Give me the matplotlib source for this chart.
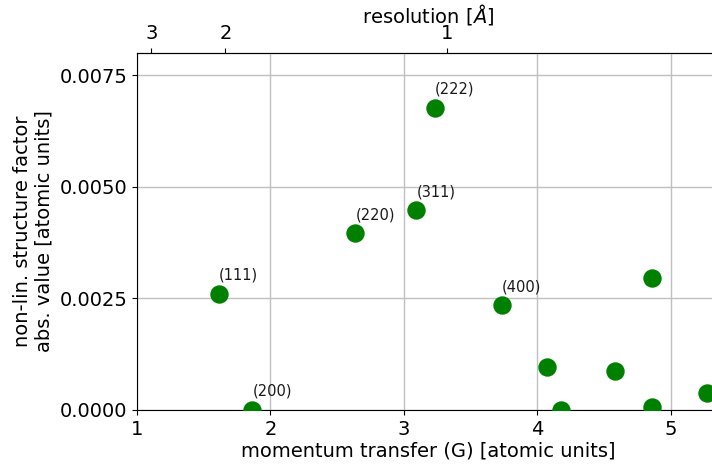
import numpy as np
import matplotlib
matplotlib.use('Agg')
import matplotlib.pyplot as plt

# reflections of the diamond lattice, |G| in 1/bohr and |F_nl| in atomic units
G = [1.614, 1.864, 2.636, 3.094, 3.235, 3.735, 4.072, 4.180, 4.580, 4.857, 4.857, 5.275]
F = [0.00260, 0.0, 0.00396, 0.00448, 0.00677, 0.00235, 0.00096, 0.0, 0.00087, 0.00295, 0.00006, 0.00038]
hkl = ['(111)', '(200)', '(220)', '(311)', '(222)', '(400)']

bohr = 0.529177   # bohr -> angstrom

def g2res(g):
    g = np.asarray(g, dtype=float)
    with np.errstate(divide='ignore'):
        return 2 * np.pi / g * bohr

fig = plt.figure(figsize=(7.12, 4.69), dpi=100)
ax = fig.add_axes([0.1924, 0.1258, 0.819, 0.761])

ax.scatter(G, F, s=150, color='green', zorder=3)
for i, lab in enumerate(hkl):
    ax.annotate(lab, (G[i], F[i]), xytext=(0, 8), textcoords='offset points',
                ha='left', va='bottom', fontsize=10.5, color='#1a1a1a')

ax.set_xlim(1, 5.37)
ax.set_ylim(0, 0.008)
ax.set_xticks([1, 2, 3, 4, 5])
ax.set_yticks([0, 0.0025, 0.005, 0.0075])
ax.set_yticklabels(['0.0000', '0.0025', '0.0050', '0.0075'])
ax.tick_params(labelsize=14)
ax.grid(True, color='#c0c0c0', linewidth=1)
ax.set_axisbelow(True)
ax.set_xlabel('momentum transfer (G) [atomic units]', fontsize=14, labelpad=2)
ax.set_ylabel('non-lin. structure factor\nabs. value [atomic units]', fontsize=14)

# resolution axis on top
top = ax.secondary_xaxis('top', functions=(g2res, g2res))
top.set_xticks([3, 2, 1])
top.tick_params(labelsize=14)
top.set_xlabel(r'resolution [$\AA$]', fontsize=14, labelpad=1)

fig.savefig('out.png', dpi=100)
